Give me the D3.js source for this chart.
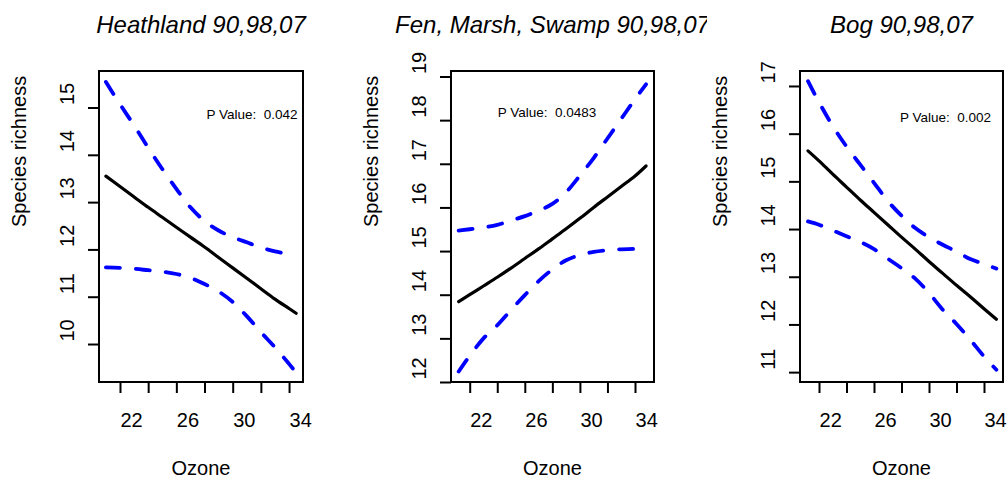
<!DOCTYPE html>
<html>
<head>
<meta charset="utf-8">
<script src="https://cdn.jsdelivr.net/npm/d3@7/dist/d3.min.js"></script>
<style>
  html, body { margin: 0; padding: 0; background: #fff; }
  svg { display: block; font-family: "Liberation Sans", Arial, Helvetica, sans-serif; }
</style>
</head>
<body>
<svg id="chart" width="1007" height="479"></svg>
<script>
// ---------------- DATA ----------------
const titles = ["Heathland 90,98,07", "Fen, Marsh, Swamp 90,98,07", "Bog 90,98,07"];
const pValues = ["0.042", "0.0483", "0.002"];
const xLabel = "Ozone";
const yLabel = "Species richness";

const xTicks = [22, 24, 26, 28, 30, 32, 34];
const xTickLabels = [22, 26, 30, 34];
const yTicksHeath = [10, 11, 12, 13, 14, 15];
const yTicksFen = [12, 13, 14, 15, 16, 17, 18, 19];
const yTicksBog = [11, 12, 13, 14, 15, 16, 17];

// Heathland
const ozoneHeath = [21, 22, 23, 24, 25, 26, 27, 28, 29, 30, 31, 32, 33, 34, 34.5];
const fitHeath   = [13.55, 13.33, 13.11, 12.89, 12.68, 12.47, 12.26, 12.05, 11.83, 11.61, 11.39, 11.17, 10.95, 10.75, 10.65];
const upperHeath = [15.54, 15.07, 14.62, 14.15, 13.70, 13.28, 12.89, 12.60, 12.40, 12.26, 12.15, 12.04, 11.96, 11.90, 11.87];
const lowerHeath = [11.62, 11.61, 11.59, 11.56, 11.53, 11.48, 11.40, 11.27, 11.11, 10.89, 10.59, 10.25, 9.93, 9.58, 9.40];

// Fen, Marsh, Swamp
const ozoneFen = [21.2, 22, 23, 24, 25, 26, 27, 28, 29, 30, 31, 32, 33, 34, 34.8];
const fitFen   = [13.84, 14.00, 14.20, 14.40, 14.61, 14.83, 15.05, 15.28, 15.51, 15.75, 16.00, 16.24, 16.48, 16.72, 16.95];
const upperFen = [15.47, 15.50, 15.54, 15.60, 15.70, 15.80, 15.93, 16.08, 16.35, 16.73, 17.13, 17.58, 18.03, 18.48, 18.82];
const lowerFen = [12.24, 12.60, 13.00, 13.30, 13.65, 13.99, 14.31, 14.58, 14.79, 14.91, 14.98, 15.02, 15.04, 15.05, 15.05];

// Bog
const ozoneBog = [21.2, 22, 23, 24, 25, 26, 27, 28, 29, 30, 31, 32, 33, 34, 34.9];
const fitBog   = [15.64, 15.43, 15.15, 14.88, 14.61, 14.35, 14.09, 13.83, 13.58, 13.32, 13.07, 12.82, 12.58, 12.33, 12.11];
const upperBog = [17.10, 16.66, 16.16, 15.73, 15.35, 14.97, 14.59, 14.28, 14.02, 13.83, 13.67, 13.53, 13.37, 13.27, 13.17];
const lowerBog = [14.16, 14.09, 13.97, 13.85, 13.73, 13.58, 13.38, 13.18, 12.96, 12.66, 12.31, 12.01, 11.68, 11.33, 11.05];

// ---------------- LAYOUT ----------------
const boxTop = 71, boxBottom = 382;
const panels = [
  { title: titles[0], p: pValues[0], x0: 99,  x1: 303,  xDom: [20.51, 34.99], yDom: [9.197, 15.772],
    yTicks: yTicksHeath, ozone: ozoneHeath, fit: fitHeath, upper: upperHeath, lower: lowerHeath,
    pPos: [31.37, 14.75], clipRight: 352 },
  { title: titles[1], p: pValues[1], x0: 451, x1: 654,  xDom: [20.642, 35.379], yDom: [12.0, 19.126],
    yTicks: yTicksFen, ozone: ozoneFen, fit: fitFen, upper: upperFen, lower: lowerFen,
    pPos: [27.61, 18.065], clipRight: 707 },
  { title: titles[2], p: pValues[2], x0: 800, x1: 1003, xDom: [20.618, 35.382], yDom: [10.793, 17.314],
    yTicks: yTicksBog, ozone: ozoneBog, fit: fitBog, upper: upperBog, lower: lowerBog,
    pPos: [31.2, 16.25], clipRight: 1007 }
];

const svg = d3.select("#chart");
svg.append("rect").attr("width", 1007).attr("height", 479).attr("fill", "#fff");

const defs = svg.append("defs");

panels.forEach((P, i) => {
  const x = d3.scaleLinear().domain(P.xDom).range([P.x0, P.x1]);
  const y = d3.scaleLinear().domain(P.yDom).range([boxBottom, boxTop]);
  const g = svg.append("g");

  // curves
  const mk = (vals) => d3.line()
    .x((d, k) => x(P.ozone[k]))
    .y(d => y(d))
    .curve(d3.curveMonotoneX)(vals);

  [P.upper, P.lower].forEach(vals => {
    g.append("path").attr("d", mk(vals))
      .attr("fill", "none").attr("stroke", "#0000ff")
      .attr("stroke-width", 3.8).attr("stroke-linecap", "round")
      .attr("stroke-dasharray", "14 16");
  });
  g.append("path").attr("d", mk(P.fit))
    .attr("fill", "none").attr("stroke", "#000")
    .attr("stroke-width", 3.2).attr("stroke-linecap", "round").attr("stroke-linejoin", "round");

  // box
  g.append("rect").attr("x", P.x0).attr("y", boxTop)
    .attr("width", P.x1 - P.x0).attr("height", boxBottom - boxTop)
    .attr("fill", "none").attr("stroke", "#000").attr("stroke-width", 2);

  // x axis
  const xa = g.append("g").attr("transform", `translate(0,${boxBottom})`)
    .call(d3.axisBottom(x).tickValues(xTicks).tickSize(11)
      .tickFormat(d => xTickLabels.includes(d) ? String(d) : ""));
  xa.select(".domain").remove();
  xa.selectAll(".tick line").attr("stroke", "#000").attr("stroke-width", 2);
  xa.selectAll(".tick text")
    .attr("text-anchor", "start").attr("dy", null).attr("y", 45).attr("x", 0)
    .attr("font-size", 20).attr("fill", "#000")
    .style("font-family", '"Liberation Sans", Arial, sans-serif');

  // y axis
  const ya = g.append("g").attr("transform", `translate(${P.x0},0)`)
    .call(d3.axisLeft(y).tickValues(P.yTicks).tickSize(11).tickFormat(d3.format("d")));
  ya.select(".domain").remove();
  ya.selectAll(".tick line").attr("stroke", "#000").attr("stroke-width", 2);
  ya.selectAll(".tick text")
    .attr("x", 0).attr("dy", null)
    .attr("transform", "translate(-25,-3) rotate(-90)")
    .attr("text-anchor", "start")
    .attr("font-size", 20).attr("fill", "#000")
    .style("font-family", '"Liberation Sans", Arial, sans-serif');

  // y label
  g.append("text")
    .attr("transform", `translate(${P.x0 - 73},227) rotate(-90)`)
    .attr("text-anchor", "start").attr("font-size", 20).attr("fill", "#000")
    .text(yLabel);

  // x label
  g.append("text")
    .attr("x", (P.x0 + P.x1) / 2).attr("y", 475)
    .attr("text-anchor", "middle").attr("font-size", 20).attr("fill", "#000")
    .text(xLabel);

  // title (clipped to figure region)
  const cid = "clip" + i;
  defs.append("clipPath").attr("id", cid)
    .append("rect").attr("x", 0).attr("y", 0).attr("width", P.clipRight).attr("height", 479);
  g.append("text")
    .attr("clip-path", `url(#${cid})`)
    .attr("x", (P.x0 + P.x1) / 2).attr("y", 33)
    .attr("text-anchor", "middle").attr("font-size", 24)
    .attr("font-style", "italic").attr("fill", "#000")
    .text(P.title);

  // p value
  g.append("text")
    .attr("x", x(P.pPos[0])).attr("y", y(P.pPos[1]))
    .attr("text-anchor", "middle").attr("font-size", 13.5).attr("fill", "#000")
    .style("white-space", "pre")
    .text("P Value:  " + P.p);
});
</script>
</body>
</html>
